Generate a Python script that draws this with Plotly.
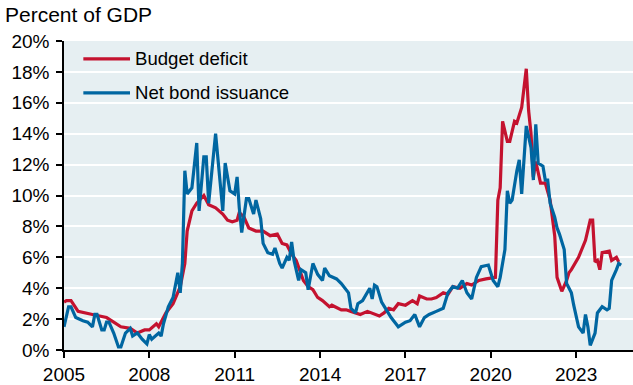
import plotly.graph_objects as go

# Monthly observations, percent of GDP
deficit_dates = [
    "2005-01", "2005-02", "2005-04", "2005-07", "2006-01", "2006-07", "2006-10", "2007-01",
    "2007-05", "2007-08", "2007-11", "2008-01", "2008-04", "2008-05", "2008-08", "2008-11",
    "2009-02", "2009-04", "2009-05", "2009-07", "2009-09", "2009-12", "2010-02", "2010-05",
    "2010-08", "2010-10", "2010-12", "2011-02", "2011-03", "2011-05", "2011-07", "2011-10",
    "2012-01", "2012-04", "2012-07", "2012-09", "2012-11", "2013-01", "2013-03", "2013-04",
    "2013-06", "2013-08", "2013-10", "2013-12", "2014-02", "2014-05", "2014-06", "2014-10",
    "2014-12", "2015-02", "2015-06", "2015-09", "2015-11", "2016-02", "2016-04", "2016-06",
    "2016-08", "2016-10", "2017-01", "2017-04", "2017-06", "2017-07", "2017-10", "2017-12",
    "2018-02", "2018-05", "2018-07", "2018-09", "2018-12", "2019-03", "2019-05", "2019-08",
    "2019-11", "2020-02", "2020-03", "2020-04", "2020-05", "2020-06", "2020-08", "2020-09",
    "2020-11", "2020-12", "2021-01", "2021-02", "2021-04", "2021-05", "2021-06", "2021-07",
    "2021-08", "2021-10", "2021-12", "2022-02", "2022-04", "2022-05", "2022-07", "2022-09",
    "2022-10", "2022-11", "2023-02", "2023-05", "2023-07", "2023-08", "2023-09", "2023-10",
    "2023-11", "2023-12", "2024-03", "2024-04", "2024-06", "2024-07",
]
deficit_values = [
    3.1, 3.2, 3.2, 2.5, 2.3, 2.1, 1.8, 1.5,
    1.4, 1.1, 1.3, 1.3, 1.7, 1.5, 2.4, 3.0,
    4.1, 5.6, 7.7, 9.0, 9.5, 10.0, 9.4, 9.2,
    8.8, 8.4, 8.3, 8.4, 8.9, 8.6, 7.9, 7.7,
    7.7, 7.4, 7.5, 6.9, 6.8, 6.2, 5.8, 5.4,
    4.5, 4.1, 3.9, 3.4, 3.2, 2.8, 2.9, 2.6,
    2.6, 2.5, 2.3, 2.5, 2.4, 2.2, 2.4, 2.7,
    2.6, 3.0, 2.9, 3.2, 3.0, 3.5, 3.3, 3.3,
    3.4, 3.7, 3.6, 4.1, 4.0, 4.3, 4.2, 4.5,
    4.6, 4.7, 4.7, 9.7, 10.5, 14.8, 13.5, 13.5,
    14.8, 14.7, 15.3, 15.7, 18.2, 15.5, 14.0, 11.2,
    12.2, 10.8, 10.8, 9.7, 7.4, 4.7, 3.8, 4.5,
    5.0, 5.2, 6.0, 7.1, 8.4, 8.4, 5.7, 5.8,
    5.2, 6.3, 6.4, 5.8, 6.0, 5.7,
]

issuance_dates = [
    "2005-01", "2005-03", "2005-04", "2005-06", "2005-09", "2005-11", "2006-01", "2006-02",
    "2006-03", "2006-05", "2006-06", "2006-07", "2006-08", "2006-10", "2006-12", "2007-01",
    "2007-03", "2007-05", "2007-06", "2007-08", "2007-10", "2007-12", "2008-01", "2008-02",
    "2008-05", "2008-06", "2008-07", "2008-08", "2008-09", "2008-11", "2009-01", "2009-02",
    "2009-03", "2009-04", "2009-05", "2009-07", "2009-09", "2009-10", "2009-12", "2010-01",
    "2010-02", "2010-05", "2010-08", "2010-09", "2010-11", "2011-01", "2011-02", "2011-03",
    "2011-04", "2011-06", "2011-07", "2011-09", "2011-10", "2011-12", "2012-01", "2012-03",
    "2012-05", "2012-06", "2012-08", "2012-09", "2012-11", "2012-12", "2013-01", "2013-02",
    "2013-04", "2013-05", "2013-07", "2013-08", "2013-10", "2013-12", "2014-02", "2014-03",
    "2014-05", "2014-08", "2014-10", "2015-01", "2015-02", "2015-04", "2015-05", "2015-07",
    "2015-09", "2015-10", "2015-11", "2015-12", "2016-01", "2016-03", "2016-05", "2016-07",
    "2016-09", "2016-10", "2017-01", "2017-03", "2017-05", "2017-06", "2017-07", "2017-09",
    "2017-11", "2018-02", "2018-05", "2018-07", "2018-09", "2018-11", "2019-01", "2019-03",
    "2019-05", "2019-07", "2019-08", "2019-09", "2019-12", "2020-02", "2020-04", "2020-05",
    "2020-07", "2020-08", "2020-09", "2020-10", "2020-12", "2021-01", "2021-02", "2021-04",
    "2021-06", "2021-07", "2021-08", "2021-09", "2021-11", "2021-12", "2022-01", "2022-02",
    "2022-04", "2022-05", "2022-06", "2022-08", "2022-09", "2022-11", "2022-12", "2023-01",
    "2023-02", "2023-04", "2023-05", "2023-06", "2023-07", "2023-09", "2023-10", "2023-12",
    "2024-02", "2024-03", "2024-04", "2024-06", "2024-07", "2024-08",
]
issuance_values = [
    1.5, 2.8, 2.8, 2.1, 1.9, 1.8, 1.5, 2.3,
    2.3, 1.3, 1.3, 1.8, 1.8, 1.1, 0.2, 0.2,
    1.1, 1.4, 0.9, 1.1, 0.7, 0.4, 1.0, 0.7,
    1.1, 0.9, 1.7, 2.2, 2.8, 3.4, 5.0, 3.7,
    5.6, 11.6, 10.1, 10.5, 13.4, 9.0, 12.5, 12.5,
    9.5, 14.0, 9.0, 12.1, 10.3, 10.1, 11.2, 9.2,
    7.6, 9.8, 9.8, 8.8, 9.7, 8.5, 6.9, 6.3,
    6.2, 6.6, 5.6, 5.3, 6.0, 5.8, 7.0, 5.8,
    4.5, 5.2, 5.0, 3.9, 5.6, 4.9, 4.5, 5.3,
    4.8, 4.6, 4.3, 3.7, 2.7, 2.4, 3.0, 3.2,
    3.7, 4.0, 3.3, 4.2, 4.1, 3.1, 2.6, 2.1,
    1.7, 1.5, 1.8, 1.9, 2.3, 1.9, 1.5, 2.1,
    2.3, 2.5, 2.7, 3.7, 4.1, 4.0, 4.5, 3.7,
    3.3, 4.7, 5.0, 5.4, 5.5, 4.5, 4.1, 4.7,
    6.5, 10.3, 9.5, 9.7, 11.6, 12.3, 10.1, 14.5,
    13.1, 11.0, 14.6, 12.1, 11.9, 11.0, 11.0, 9.5,
    8.6, 7.9, 7.5, 6.5, 4.3, 3.7, 2.9, 2.2,
    1.5, 1.1, 2.3, 1.5, 0.3, 1.1, 2.4, 2.8,
    2.6, 2.7, 4.5, 5.2, 5.6, 5.5,
]

series_names = ["Budget deficit", "Net bond issuance"]
series_colors = ["#c4122f", "#0066a1"]
year_ticks = ["2005", "2008", "2011", "2014", "2017", "2020", "2023"]

FONT = "Liberation Sans, Arial, sans-serif"

fig = go.Figure()
fig.add_trace(go.Scatter(
    x=deficit_dates, y=deficit_values, mode="lines", name=series_names[0],
    line=dict(color=series_colors[0], width=3.2), showlegend=False,
))
fig.add_trace(go.Scatter(
    x=issuance_dates, y=issuance_values, mode="lines", name=series_names[1],
    line=dict(color=series_colors[1], width=3.2), showlegend=False,
))

# Hand-placed legend: short coloured bars with labels in the upper-left corner
legend_rows = [0.942, 0.832]
for name, color, yy in zip(series_names, series_colors, legend_rows):
    fig.add_shape(type="line", xref="paper", yref="paper",
                  x0=0.034, x1=0.116, y0=yy, y1=yy,
                  line=dict(color=color, width=3.2))
    fig.add_annotation(text=name, xref="paper", yref="paper", x=0.122, y=yy,
                       xanchor="left", yanchor="middle", showarrow=False,
                       font=dict(family=FONT, size=18.6, color="#000000"))

fig.add_annotation(text="Percent of GDP", xref="paper", yref="paper",
                   x=-0.108, y=1.085, xanchor="left", yanchor="middle",
                   showarrow=False, font=dict(family=FONT, size=21, color="#000000"))

fig.update_layout(
    width=633, height=385,
    margin=dict(l=64, r=0, t=41, b=35),
    paper_bgcolor="white",
    plot_bgcolor="#e6eff2",
    font=dict(family=FONT, size=19, color="#000000"),
)
fig.update_xaxes(
    type="date",
    range=["2005-01-01", "2024-12-31"],
    tickvals=[f"{y}-01-01" for y in year_ticks],
    ticktext=year_ticks,
    ticks="outside", ticklen=6, tickwidth=1.5, tickcolor="#000000",
    showline=True, linecolor="#000000", linewidth=1.5,
    showgrid=False, zeroline=False,
    tickfont=dict(family=FONT, size=19, color="#000000"),
)
fig.update_yaxes(
    range=[0, 20], dtick=2, ticksuffix="%",
    ticks="outside", ticklen=6, tickwidth=1.5, tickcolor="#000000",
    showline=True, linecolor="#000000", linewidth=1.5,
    showgrid=True, gridcolor="white", gridwidth=2, zeroline=False,
    ticklabelstandoff=3,
    tickfont=dict(family=FONT, size=19, color="#000000"),
)

fig.write_html("out.html")
